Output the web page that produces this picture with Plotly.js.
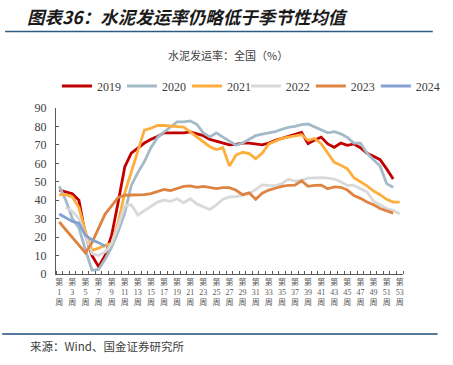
<!DOCTYPE html>
<html>
<head>
<meta charset="utf-8">
<script src="https://cdn.plot.ly/plotly-3.0.1.min.js"></script>
<style>html,body{margin:0;padding:0;background:#fff;}#chart{width:453px;height:365px;}</style>
</head>
<body>
<div id="chart"></div>
<script>
// Weeks 1..53
const weeks = Array.from({length: 53}, (_, i) => i + 1);
const tickWeeks = [1,3,5,7,9,11,13,15,17,19,21,23,25,27,29,31,33,35,37,39,41,43,45,47,49,51,53];
const tickLabels = tickWeeks.map(w => '第<br>' + w + '<br>周');

const seriesNames = ['2019','2020','2021','2022','2023','2024'];

const y2019 = [45.5,44.5,43.5,40,21,10,4,10,21,39,58,65.5,68.5,71,73,74.5,76.5,76.5,76.5,76.5,77,76,75,73,72,70.7,70,70.3,71,71,70.3,70,71,72.5,73.5,74.7,75.6,76.7,70.7,72.7,74.2,70.5,68.7,71,69.8,70.5,68.5,65.5,63.8,62,57,51.5];
const y2020 = [47.5,40,30,25,13,2,2.5,8,14.5,23,33,48,55,61,68.5,74,77,79.7,82.5,82.5,83,81.2,76.5,74.3,76.5,74.2,71.8,69.8,71,72.8,75,75.8,76.5,77.2,78.5,79.5,80,81,81.3,79.7,78.3,76.5,77.2,76,74,71,71,65.5,62,58.5,49,47];
const y2021 = [43,43,41.8,36,22.8,12.8,14,15.5,16.5,28,44,55.5,66.5,78,79,80.5,80.5,80.3,80,79.7,77,74.5,72,69,67.5,68.5,58.5,64.5,66,65.3,62.5,65.5,70.5,72,73.5,74.2,74.8,75.5,72.5,73.5,70.7,65.5,60.5,59,57,52.2,50,47.8,45,43,40.5,39,39];
const y2022 = [null,36,34,30,21,11,10,12,16.5,26,37,37.5,32,34.5,36.5,39,40,39.4,40.8,38.6,40.8,38,36.5,35,37.5,40.5,41.8,42,42.7,43.6,45.8,48.3,48,47.8,49,51.5,50.3,50.8,52,52.2,52.2,52,51.5,50,48,48,46.3,44.5,39.5,37.5,35.5,34.5,32.5];
const y2023 = [28.2,24,19.5,15.5,11.5,17,25,32.5,37,41.5,42.7,42.7,42.7,43,43.6,44.5,45.8,45.2,46.3,47.5,47.8,47,47.5,46.8,46.3,46.8,46.8,45.4,43,44,40.5,43.8,45.5,46.5,47.5,48,48.2,50.5,47.5,48,48.2,46.2,47.2,47,45.5,42.5,41,39,37.5,35.5,34.2,33];
const y2024 = [32.5,30.5,28.5,27.5,21,18.5,17,15];

const seriesValues = [y2019, y2020, y2021, y2022, y2023, y2024];
const seriesColors = ['#C00000','#A3BAC8','#FDAE3C','#D9D9D9','#DE8443','#84A1D2'];

const traces = seriesNames.map((name, i) => ({
  type: 'scatter',
  mode: 'lines',
  name: name,
  legend: i < 3 ? 'legend' : 'legend2',
  x: weeks.slice(0, seriesValues[i].length),
  y: seriesValues[i],
  line: {color: seriesColors[i], width: 2.8},
  connectgaps: false,
  hoverinfo: 'skip'
}));

// plot area in pixels: x 56..417, y 108..274
const L = 56, R = 417, T = 108, B = 274;
const W = R - L, H = B - T;
const px = v => (v - L) / W;
const py = v => (B - v) / H;

const legendBase = {
  orientation: 'h',
  xanchor: 'left',
  y: py(86), yanchor: 'middle',
  font: {family: 'Liberation Serif, Noto Sans CJK SC', size: 12, color: '#404040'},
  entrywidth: 20, entrywidthmode: 'pixels',
  bgcolor: 'rgba(0,0,0,0)',
  itemwidth: 30,
  tracegroupgap: 0
};

const layout = {
  width: 453, height: 365,
  margin: {l: L, r: 453 - R, t: T, b: 365 - B},
  paper_bgcolor: '#ffffff',
  plot_bgcolor: '#ffffff',
  showlegend: true,
  title: {
    text: '图表36：水泥发运率仍略低于季节性均值',
    xref: 'container', yref: 'container',
    x: 27 / 453, xanchor: 'left',
    y: 1 - 18 / 365, yanchor: 'middle',
    font: {family: 'Noto Sans CJK SC', size: 17.5, color: '#1a1a1a', weight: 'bold', style: 'italic'}
  },
  legend: Object.assign({}, legendBase, {x: px(57)}),
  legend2: Object.assign({}, legendBase, {x: px(57 + 3 * 65.5)}),
  xaxis: {
    type: 'linear',
    range: [0.5, 53.5],
    tickmode: 'array',
    tickvals: tickWeeks,
    ticktext: tickLabels,
    ticks: '',
    showgrid: false,
    zeroline: false,
    showline: true,
    linecolor: '#595959',
    linewidth: 1,
    tickfont: {family: 'Liberation Serif, Noto Sans CJK SC', size: 8, color: '#595959'},
    tickangle: 0,
    minor: {tickmode: 'linear', tick0: 0.5, dtick: 1, ticks: 'inside', ticklen: 3, tickcolor: '#595959', tickwidth: 1, showgrid: false},
    fixedrange: true
  },
  yaxis: {
    range: [0, 90],
    tickmode: 'linear', tick0: 0, dtick: 10,
    ticks: 'inside', ticklen: 3, tickcolor: '#595959',
    showgrid: false,
    zeroline: false,
    showline: true,
    linecolor: '#595959',
    linewidth: 1,
    ticklabelstandoff: 6,
    tickfont: {family: 'Liberation Serif', size: 12, color: '#404040'},
    fixedrange: true
  },
  shapes: [
    {type: 'line', xref: 'paper', yref: 'paper', x0: px(3), x1: px(448), y0: py(31.5), y1: py(31.5), line: {color: '#2E5C80', width: 1.6}},
    {type: 'line', xref: 'paper', yref: 'paper', x0: px(0), x1: px(453), y0: py(334), y1: py(334), line: {color: '#1F4E79', width: 1.6}}
  ],
  annotations: [
    {text: '水泥发运率：全国（%）', xref: 'paper', yref: 'paper', x: px(235), y: py(55), xanchor: 'center', yanchor: 'middle', showarrow: false,
     font: {family: 'Noto Sans CJK SC', size: 11, color: '#404040'}},
    {text: '来源：Wind、国金证券研究所', xref: 'paper', yref: 'paper', x: px(27), y: py(346), xanchor: 'left', yanchor: 'middle', showarrow: false,
     font: {family: 'Noto Sans CJK SC', size: 11.5, color: '#404040'}}
  ]
};

Plotly.newPlot('chart', traces, layout, {displayModeBar: false, staticPlot: true});
</script>
</body>
</html>
